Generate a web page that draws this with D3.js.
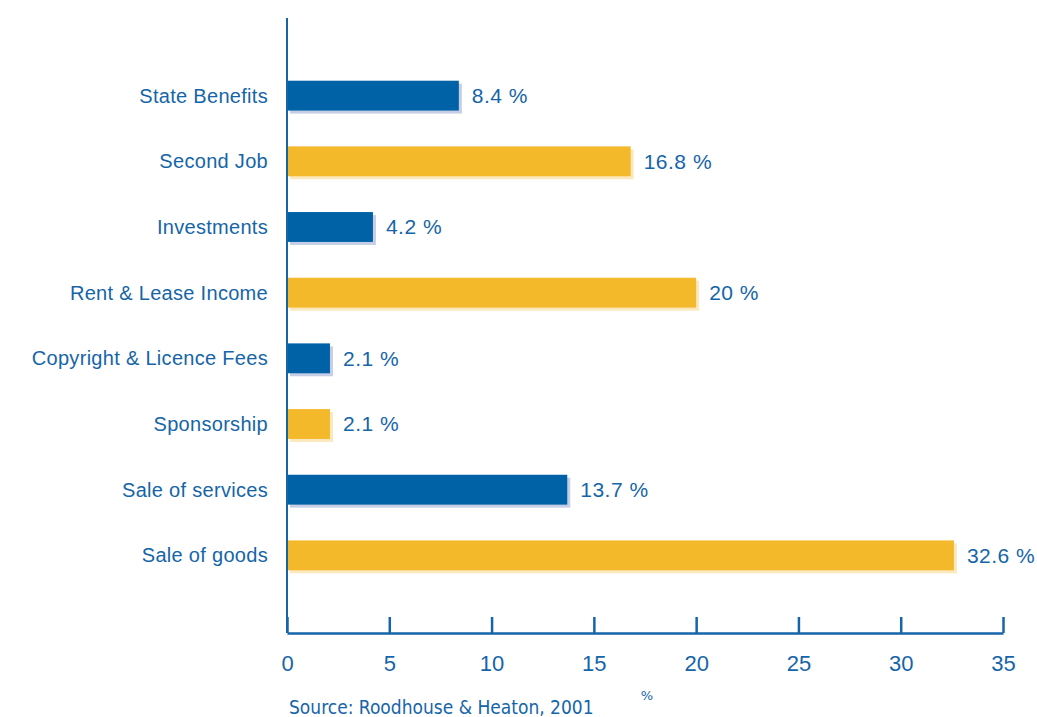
<!DOCTYPE html>
<html>
<head>
<meta charset="utf-8">
<script src="https://cdn.jsdelivr.net/npm/d3@7"></script>
<style>
  html, body { margin: 0; padding: 0; background: #ffffff; }
  svg { display: block; }
</style>
</head>
<body>
<svg id="chart" width="1037" height="717"></svg>
<script>
// Income sources, top to bottom
const categories = [
  "State Benefits",
  "Second Job",
  "Investments",
  "Rent & Lease Income",
  "Copyright & Licence Fees",
  "Sponsorship",
  "Sale of services",
  "Sale of goods"
];
const values = [8.4, 16.8, 4.2, 20, 2.1, 2.1, 13.7, 32.6];
const valueLabels = ["8.4 %", "16.8 %", "4.2 %", "20 %", "2.1 %", "2.1 %", "13.7 %", "32.6 %"];
const xTicks = [0, 5, 10, 15, 20, 25, 30, 35];
const sourceText = "Source: Roodhouse & Heaton, 2001";
const unitText = "%";

const ink = "#1565a8";
const barFill = ["#0062a6", "#f4b82b"];
const shadowFill = ["#c6cee6", "#fbe8bd"];

const svg = d3.select("#chart");
const plotLeft = 287, plotRight = 1003, plotTop = 18, axisY = 633;

const x = d3.scaleLinear().domain([0, 35]).range([plotLeft, plotRight]);
const y = d3.scaleBand().domain(categories).range([61, 590]).paddingInner(0.545).paddingOuter(0.3);

const rows = svg.append("g").selectAll("g")
  .data(categories.map((c, i) => ({ c, v: values[i], label: valueLabels[i], i })))
  .join("g");

// drop shadow under each bar
rows.append("rect")
  .attr("x", plotLeft + 3)
  .attr("y", d => y(d.c) + 3)
  .attr("width", d => x(d.v) - plotLeft)
  .attr("height", y.bandwidth())
  .attr("fill", d => shadowFill[d.i % 2]);

rows.append("rect")
  .attr("x", plotLeft)
  .attr("y", d => y(d.c))
  .attr("width", d => x(d.v) - plotLeft)
  .attr("height", y.bandwidth())
  .attr("fill", d => barFill[d.i % 2]);

rows.append("text")
  .attr("x", d => x(d.v) + 13)
  .attr("y", d => y(d.c) + y.bandwidth() / 2)
  .attr("dy", "0.35em")
  .attr("font-family", "Liberation Sans, Arial, sans-serif")
  .attr("font-size", 21)
  .attr("letter-spacing", 0.5)
  .attr("fill", ink)
  .text(d => d.label);

rows.append("text")
  .attr("x", 268)
  .attr("y", d => y(d.c) + y.bandwidth() / 2)
  .attr("dy", "0.35em")
  .attr("text-anchor", "end")
  .attr("font-family", "Liberation Sans, Arial, sans-serif")
  .attr("font-size", 20)
  .attr("letter-spacing", 0.3)
  .attr("fill", ink)
  .text(d => d.c);

// vertical axis line
svg.append("line")
  .attr("x1", plotLeft).attr("x2", plotLeft)
  .attr("y1", plotTop).attr("y2", axisY)
  .attr("stroke", ink).attr("stroke-width", 2);

// horizontal axis with ticks pointing up
const xAxis = d3.axisBottom(x).tickValues(xTicks).tickSize(-16).tickSizeOuter(0).tickPadding(0);
const gx = svg.append("g").attr("transform", `translate(0,${axisY})`).call(xAxis);
gx.select(".domain").attr("stroke", ink).attr("stroke-width", 2.5);
gx.selectAll(".tick line").attr("stroke", ink).attr("stroke-width", 2.5);
gx.selectAll(".tick text")
  .attr("y", 38)
  .attr("dy", 0)
  .attr("font-family", "Liberation Sans, Arial, sans-serif")
  .attr("font-size", 22)
  .attr("fill", ink);

svg.append("text")
  .attr("x", 289).attr("y", 714)
  .attr("font-family", "DejaVu Sans Condensed, sans-serif")
  .attr("font-size", 19)
  .attr("fill", ink)
  .text(sourceText);

svg.append("text")
  .attr("x", 647).attr("y", 700)
  .attr("text-anchor", "middle")
  .attr("font-family", "DejaVu Sans, sans-serif")
  .attr("font-size", 13)
  .attr("fill", ink)
  .text(unitText);
</script>
</body>
</html>
